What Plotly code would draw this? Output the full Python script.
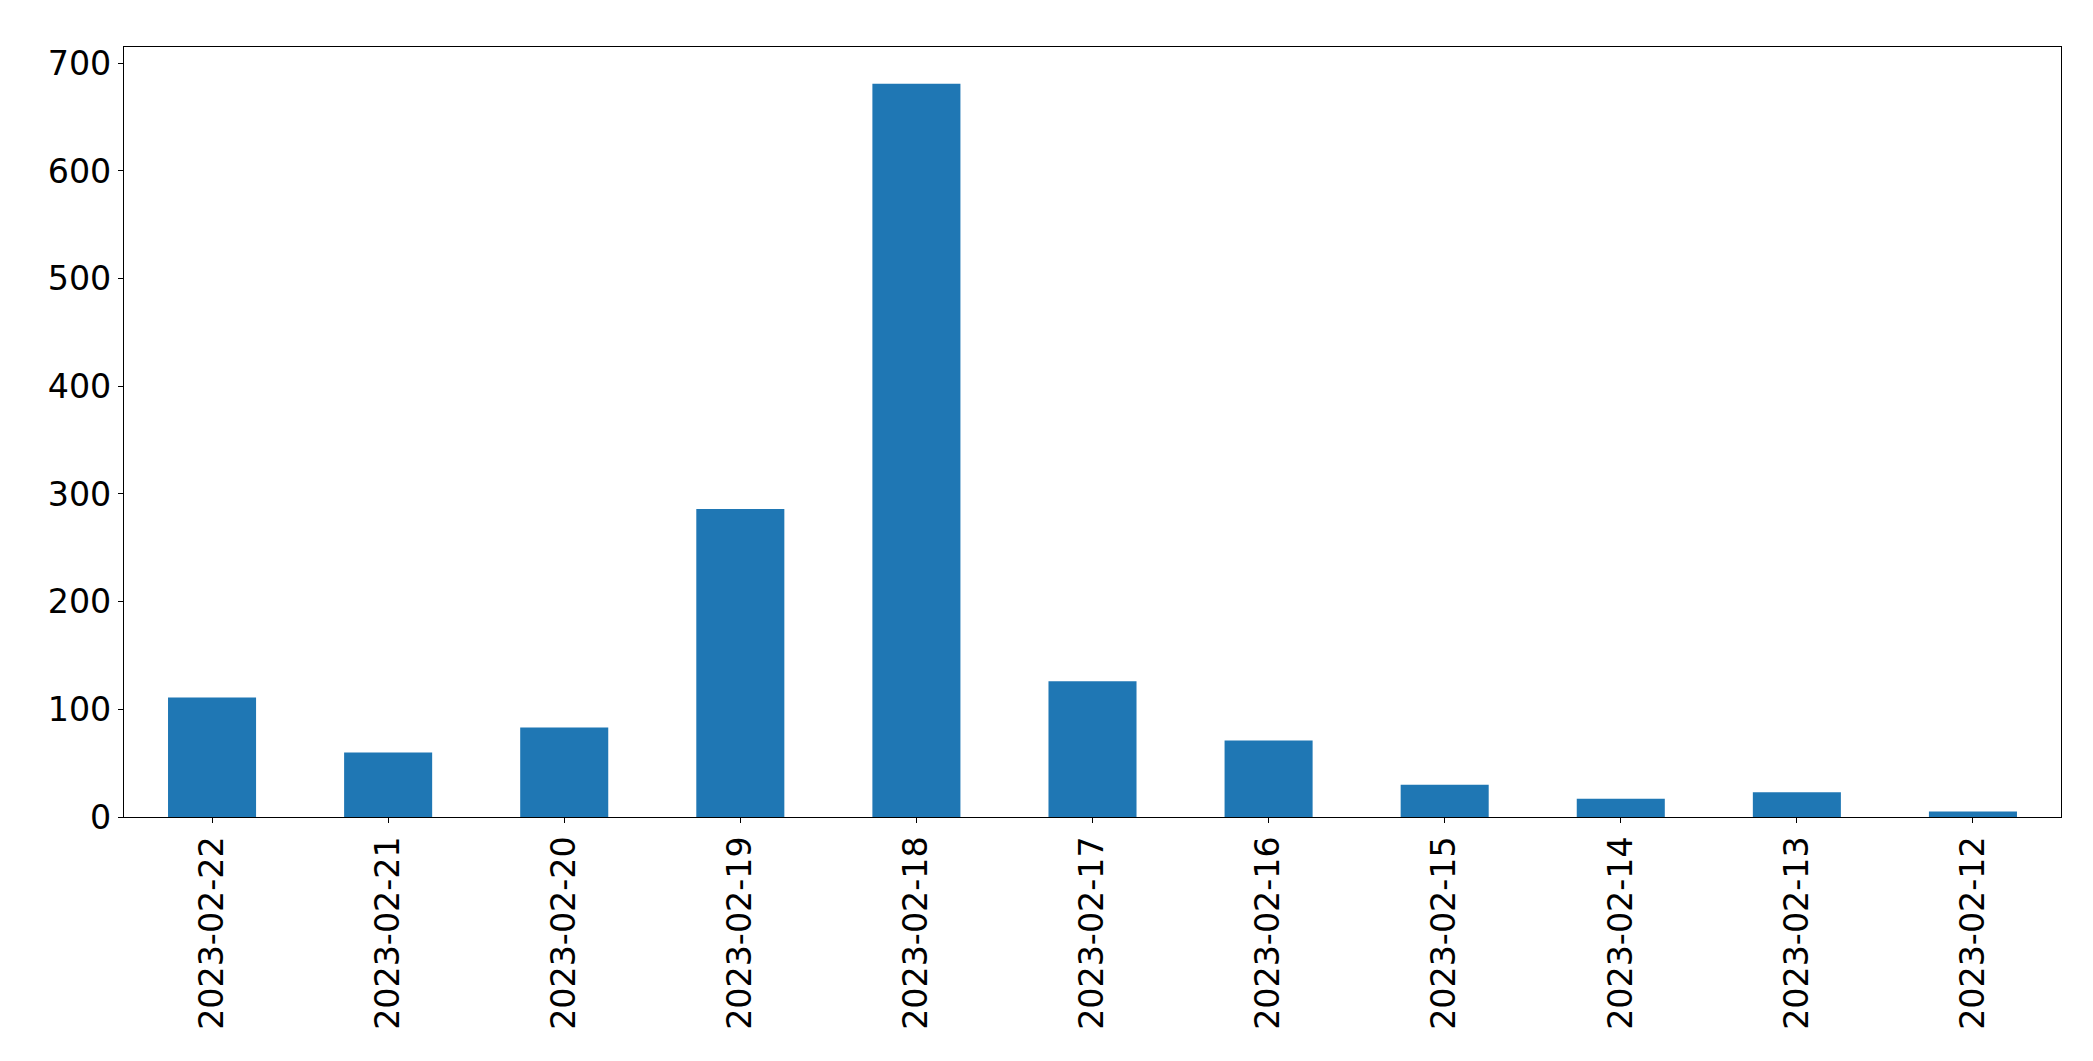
import plotly.graph_objects as go

dates = ["2023-02-22", "2023-02-21", "2023-02-20", "2023-02-19", "2023-02-18",
         "2023-02-17", "2023-02-16", "2023-02-15", "2023-02-14", "2023-02-13",
         "2023-02-12"]
counts = [111, 60, 83, 286, 681, 126, 71, 30, 17, 23, 5]

fig = go.Figure(go.Bar(x=dates, y=counts, marker_color="#1f77b4",
                       marker_line_width=0, width=0.5))

font = dict(family="DejaVu Sans", size=33.3, color="black")
fig.update_layout(
    width=2093, height=1061,
    margin=dict(l=116, r=40, t=39, b=252),
    paper_bgcolor="white", plot_bgcolor="white",
    font=font, showlegend=False,
)
fig.update_xaxes(type="category", range=[-0.5, 10.5], tickangle=-90,
                 showline=True, linecolor="black", linewidth=1.1, mirror=True,
                 ticks="outside", ticklen=5, tickwidth=1.1, tickcolor="black",
                 showgrid=False, tickfont=font)
fig.update_yaxes(range=[0, 715.05], tickvals=[0, 100, 200, 300, 400, 500, 600, 700],
                 showline=True, linecolor="black", linewidth=1.1, mirror=True,
                 ticks="outside", ticklen=5, tickwidth=1.1, tickcolor="black",
                 showgrid=False, zeroline=False, tickfont=font)

fig.write_html("out.html")
